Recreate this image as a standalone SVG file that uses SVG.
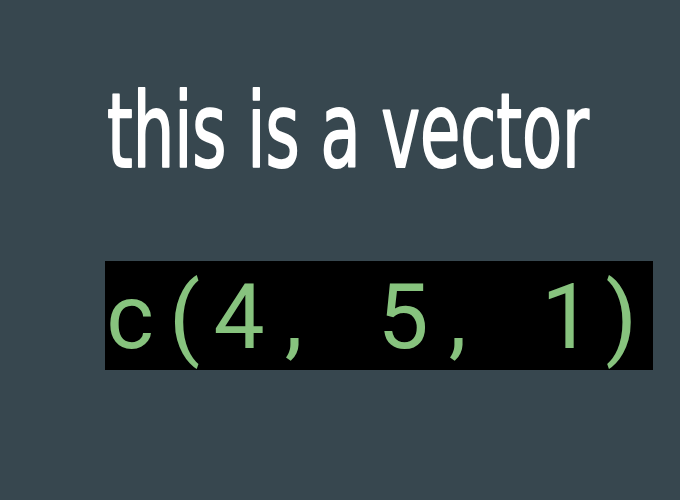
<svg xmlns="http://www.w3.org/2000/svg" width="680" height="500" viewBox="0 0 680 500">
<style>
.title{font-family:"Liberation Sans Narrow","DejaVu Sans Condensed","Liberation Sans",sans-serif;font-size:104px;fill:#ffffff;stroke:#ffffff;stroke-width:2px;stroke-linejoin:round}
.code{font-family:Roboto,"Liberation Mono",monospace;font-size:91px;fill:#87c37e}
</style>
<rect id="background" x="0" y="0" width="680" height="500" fill="#37474f"/>
<g id="title">
<text class="title" x="107" y="167" textLength="482" lengthAdjust="spacingAndGlyphs">this is a vector</text>
</g>
<g id="code">
<rect x="105" y="261" width="548" height="109" fill="#000000"/>
<text class="code" y="348" text-anchor="middle" x="130 184.6 239.2 293.8 348.4 403 457.6 512.2 566.8 621.4">c(4,  5,  1)</text>
</g>
</svg>
